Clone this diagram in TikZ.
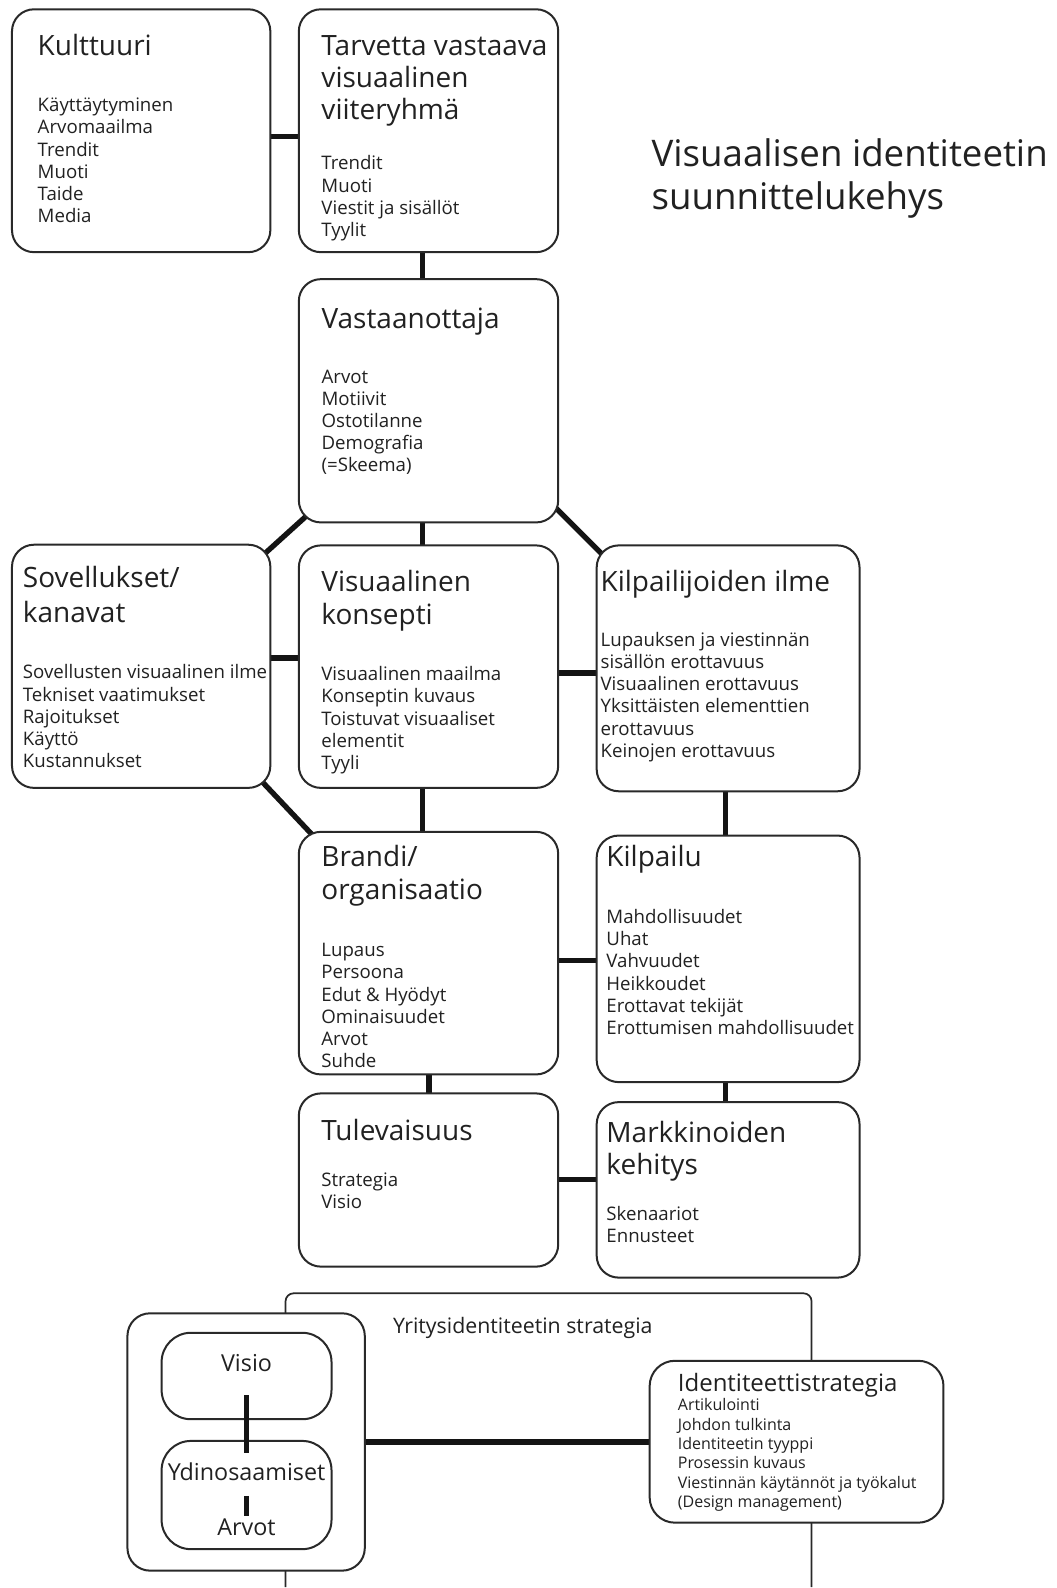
\documentclass[tikz,border=0pt]{standalone}
\usepackage{fontspec}
\setmainfont{Open Sans}
\usetikzlibrary{calc,fit}
\definecolor{inkc}{gray}{0.13}
\definecolor{linec}{gray}{0.16}
\pgfdeclarelayer{paper}
\pgfdeclarelayer{bg}
\pgfsetlayers{paper,bg,main}
% stacked lines with a fixed baseline distance; the block's baseline is the first line
\newcommand\stack[2]{\vtop{\baselineskip=#1\relax\lineskiplimit=-\maxdimen #2}}
\newcommand\rowtxt[1]{\hbox{#1}}

\begin{document}
\begin{tikzpicture}[x=0.75pt,y=-0.75pt,
  panel/.style={draw=linec, line width=1.5pt, fill=white, rounded corners=16.5pt, inner sep=0pt, outer sep=0pt},
  link/.style={draw=black!92, line width=4pt},
  hd/.style={anchor=base west, inner sep=0pt, text=inkc, font=\fontsize{21}{25}\selectfont},
  bd/.style={anchor=base west, inner sep=0pt, text=inkc, font=\fontsize{14}{16.65}\selectfont},
  bigtitle/.style={anchor=base west, inner sep=0pt, text=inkc, font=\fontsize{27.5}{32.5}\selectfont},
  core/.style={anchor=base, inner sep=0pt, text=inkc, font=\fontsize{17.5}{21}\selectfont},
  small/.style={anchor=base west, inner sep=0pt, text=inkc, font=\fontsize{12}{14.5}\selectfont},
  mid/.style={anchor=base west, inner sep=0pt, text=inkc, font=\fontsize{18}{21}\selectfont},
]
\begin{pgfonlayer}{paper}
  \path[use as bounding box, fill=white] (0,0) rectangle (1057,1588);
\end{pgfonlayer}

% ---- panels ----
\node[panel, fit={(12,9.3) (270.5,252.3)}] (kul) {};
\node[panel, fit={(299,9.3) (558.5,252.3)}] (tar) {};
\node[panel, fit={(299,279.3) (558.5,522.7)}] (vas) {};
\node[panel, fit={(12,545) (270.5,788.3)}] (sov) {};
\node[panel, fit={(299,545.7) (558.5,788.3)}] (kon) {};
\node[panel, fit={(597,545.7) (860,791.7)}] (kil) {};
\node[panel, fit={(299,832.3) (558.5,1075)}] (bra) {};
\node[panel, fit={(597,836) (860,1082.7)}] (kpl) {};
\node[panel, fit={(299,1094) (558.5,1267.3)}] (tul) {};
\node[panel, fit={(597,1102.7) (860,1278.3)}] (mar) {};
\node[panel, rounded corners=17pt, fit={(127.5,1314) (365,1571.5)}] (core) {};
\node[panel, rounded corners=22pt, fit={(161.7,1333.5) (331.7,1420)}] (visio) {};
\node[panel, rounded corners=22pt, fit={(161.7,1441.7) (331.7,1550)}] (ydin) {};
\node[panel, rounded corners=19pt, fit={(650,1361.5) (944,1523.5)}] (ide) {};

% ---- connectors and strategy frame, beneath the panels ----
\begin{pgfonlayer}{bg}
  \draw[draw=linec, line width=1.3pt, rounded corners=6pt]
    (285.7,1588) -- (285.7,1294) -- (812,1294) -- (812,1588);
  \coordinate (h1) at ($(kul.east)+(0,5.9)$);
  \draw[link] (h1) -- (h1 -| tar.west);
  \coordinate (v1) at ($(tar.south)+(-5.75,0)$);
  \draw[link] (v1) -- (v1 |- vas.north);
  \coordinate (v2) at ($(vas.south)+(-6,0)$);
  \draw[link] (v2) -- (v2 |- kon.north);
  \draw[link] ($(vas.south west)+(20.1,-17.8)$) -- ($(sov.north east)+(-18.3,20.4)$);
  \draw[link] ($(vas.south east)+(-7.8,-20)$) -- ($(kil.north west)+(15,18.3)$);
  \coordinate (h2) at ($(sov.east)+(0,-8.35)$);
  \draw[link] (h2) -- (h2 -| kon.west);
  \coordinate (h3) at ($(kon.east)+(0,6.3)$);
  \draw[link] (h3) -- (h3 -| kil.west);
  \draw[link] ($(sov.south east)+(-15.5,-13.9)$) -- ($(bra.north west)+(21.6,11.6)$);
  \coordinate (v3) at ($(kon.south)+(-6,0)$);
  \draw[link] (v3) -- (v3 |- bra.north);
  \coordinate (v4) at ($(kil.south)+(-2.5,0)$);
  \draw[link] (v4) -- (v4 |- kpl.north);
  \coordinate (h4) at ($(bra.east)+(0,7.35)$);
  \draw[link] (h4) -- (h4 -| kpl.west);
  \coordinate (v5) at ($(bra.south)+(0.55,0)$);
  \draw[link] (v5) -- (v5 |- tul.north);
  \coordinate (v6) at ($(kpl.south)+(-2.5,0)$);
  \draw[link] (v6) -- (v6 |- mar.north);
  \coordinate (h5) at ($(tul.east)+(0,-0.65)$);
  \draw[link] (h5) -- (h5 -| mar.west);
  \draw[link] (core.east) -- (core.east -| ide.west);
\end{pgfonlayer}

% ---- links drawn over the core panels ----
\draw[link] ($(visio.south)+(0,-24)$) -- ($(ydin.north)+(0,12.3)$);
\draw[link] ($(ydin.center)+(0,0.85)$) -- ($(ydin.center)+(0,20.85)$);

% ---- texts ----
\node[bigtitle] (title) at (651.7,166.7) {\stack{32.5pt}{\rowtxt{Visuaalisen identiteetin}\rowtxt{suunnittelukehys}}};

\node[hd] (kul-h) at (37.5,56) {Kulttuuri};
\node[bd] (kul-b) at (37.5,111.7) {\stack{16.65pt}{\rowtxt{Käyttäytyminen}\rowtxt{Arvomaailma}\rowtxt{Trendit}\rowtxt{Muoti}\rowtxt{Taide}\rowtxt{Media}}};

\node[hd] (tar-h) at (321.4,56) {\stack{24pt}{\rowtxt{Tarvetta vastaava}\rowtxt{visuaalinen}\rowtxt{viiteryhmä}}};
\node[bd] (tar-b) at (321.4,170) {\stack{16.65pt}{\rowtxt{Trendit}\rowtxt{Muoti}\rowtxt{Viestit ja sisällöt}\rowtxt{Tyylit}}};

\node[hd] (vas-h) at (321.5,328.3) {Vastaanottaja};
\node[bd] (vas-b) at (321.5,383.3) {\stack{16.65pt}{\rowtxt{Arvot}\rowtxt{Motiivit}\rowtxt{Ostotilanne}\rowtxt{Demografia}\rowtxt{(=Skeema)}}};

\node[hd] (sov-h) at (22.7,588.3) {\stack{26.25pt}{\rowtxt{Sovellukset/}\rowtxt{kanavat}}};
\node[bd] (sov-b) at (22.7,679.3) {\stack{16.65pt}{\rowtxt{Sovellusten visuaalinen ilme}\rowtxt{Tekniset vaatimukset}\rowtxt{Rajoitukset}\rowtxt{Käyttö}\rowtxt{Kustannukset}}};

\node[hd] (kon-h) at (321.3,591.7) {\stack{25pt}{\rowtxt{Visuaalinen}\rowtxt{konsepti}}};
\node[bd] (kon-b) at (321.3,681) {\stack{16.65pt}{\rowtxt{Visuaalinen maailma}\rowtxt{Konseptin kuvaus}\rowtxt{Toistuvat visuaaliset}\rowtxt{elementit}\rowtxt{Tyyli}}};

\node[hd] (kil-h) at (600.7,591.7) {Kilpailijoiden ilme};
\node[bd] (kil-b) at (600.7,646.7) {\stack{16.65pt}{\rowtxt{Lupauksen ja viestinnän}\rowtxt{sisällön erottavuus}\rowtxt{Visuaalinen erottavuus}\rowtxt{Yksittäisten elementtien}\rowtxt{erottavuus}\rowtxt{Keinojen erottavuus}}};

\node[hd] (bra-h) at (321.3,866.7) {\stack{25pt}{\rowtxt{Brandi/}\rowtxt{organisaatio}}};
\node[bd] (bra-b) at (321.3,957.3) {\stack{16.65pt}{\rowtxt{Lupaus}\rowtxt{Persoona}\rowtxt{Edut \& Hyödyt}\rowtxt{Ominaisuudet}\rowtxt{Arvot}\rowtxt{Suhde}}};

\node[hd] (kpl-h) at (606.5,866.7) {Kilpailu};
\node[bd] (kpl-b) at (606.5,924) {\stack{16.65pt}{\rowtxt{Mahdollisuudet}\rowtxt{Uhat}\rowtxt{Vahvuudet}\rowtxt{Heikkoudet}\rowtxt{Erottavat tekijät}\rowtxt{Erottumisen mahdollisuudet}}};

\node[hd] (tul-h) at (321.3,1140.7) {Tulevaisuus};
\node[bd] (tul-b) at (321.3,1186.7) {\stack{16.65pt}{\rowtxt{Strategia}\rowtxt{Visio}}};

\node[hd] (mar-h) at (606.5,1143.3) {\stack{23.8pt}{\rowtxt{Markkinoiden}\rowtxt{kehitys}}};
\node[bd] (mar-b) at (606.5,1220.7) {\stack{16.65pt}{\rowtxt{Skenaariot}\rowtxt{Ennusteet}}};

\node[anchor=base west, inner sep=0pt, text=inkc, font=\fontsize{16}{19}\selectfont] (frame-h) at (393,1334) {Yritysidentiteetin strategia};

\node[core] (visio-t) at (246.7,1372.7) {Visio};
\node[core] (ydin-t) at (246.7,1481.7) {Ydinosaamiset};
\node[core] (arvot-t) at (246.7,1536.7) {Arvot};

\node[mid] (ide-h) at (678,1392.2) {Identiteettistrategia};
\node[small] (ide-b) at (678,1411.7) {\stack{14.5pt}{\rowtxt{Artikulointi}\rowtxt{Johdon tulkinta}\rowtxt{Identiteetin tyyppi}\rowtxt{Prosessin kuvaus}\rowtxt{Viestinnän käytännöt ja työkalut}\rowtxt{(Design management)}}};
\end{tikzpicture}
\end{document}
